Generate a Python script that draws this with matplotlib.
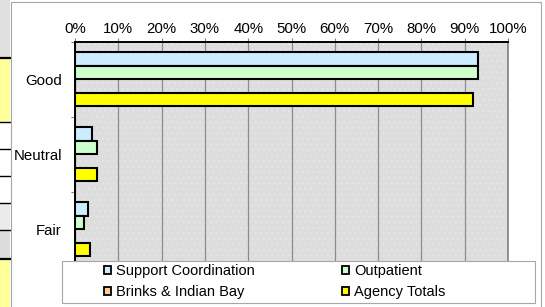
import matplotlib
matplotlib.use("Agg")
import matplotlib.pyplot as plt
from matplotlib.patches import Rectangle, Patch
from matplotlib.ticker import FuncFormatter, FixedLocator

plt.rcParams['font.family'] = ['Liberation Sans', 'DejaVu Sans']
plt.rcParams['hatch.linewidth'] = 0.6

categories = ["Good", "Neutral", "Fair"]
series_names = ["Support Coordination", "Outpatient", "Brinks & Indian Bay", "Agency Totals"]
support = [0.93, 0.04, 0.03]
outpatient = [0.93, 0.05, 0.02]
brinks = [0.0, 0.0, 0.0]
agency = [0.92, 0.05, 0.035]
colors = ["#CCECFF", "#CCFFCC", "#FFCC99", "#FFFF00"]
x_ticks = [0.0, 0.1, 0.2, 0.3, 0.4, 0.5, 0.6, 0.7, 0.8, 0.9, 1.0]

W, H = 545, 307
FS = 10.8
LFS = 10.55
fig = plt.figure(figsize=(W / 100, H / 100), dpi=100)
fig.patch.set_facecolor("white")

def fx(px):
    return px / W

def fy(py):
    return 1 - py / H

def frect(x0, y0, x1, y1, **kw):
    r = Rectangle((fx(x0), fy(y1)), fx(x1) - fx(x0), fy(y0) - fy(y1),
                  transform=fig.transFigure, **kw)
    fig.add_artist(r)
    return r

# left strip (part of worksheet behind the chart)
frect(0, 0, 10, 58, facecolor="#E0E0E0", edgecolor="none", zorder=-10)
frect(0, 58, 10, 122, facecolor="#FFFF99", edgecolor="none", zorder=-10)
frect(0, 122, 10, 203, facecolor="white", edgecolor="none", zorder=-10)
frect(0, 203, 10, 230, facecolor="#EBEBEB", edgecolor="none", zorder=-10)
frect(0, 230, 10, 258, facecolor="#DCDCDC", edgecolor="none", zorder=-10)
frect(0, 258, 10, 307, facecolor="#FFFF99", edgecolor="none", zorder=-10)
for yy, lw in [(58, 1.6), (122, 1.0), (149, 1.0), (176, 1.0), (203, 1.0), (230, 1.0), (258.5, 1.6)]:
    fig.add_artist(plt.Line2D([0, fx(10)], [fy(yy), fy(yy)], transform=fig.transFigure,
                              color="black", lw=lw, zorder=-9))

# chart frame
frect(10.5, 1.5, 540.5, 320, facecolor="white", edgecolor="#A6A6A6", lw=0.8, zorder=-8)

ax = fig.add_axes([fx(75), fy(266.7), fx(508) - fx(75), fy(41.7) - fy(266.7)])
ax.set_facecolor("#DDDDDD")
ax.set_axisbelow(True)
# faint dotted pattern of the plot area
ax.add_patch(Rectangle((0, 0), 1, 1, transform=ax.transAxes, facecolor="none",
                       edgecolor="#E7E7E7", hatch="...", lw=0, zorder=0.5))

bar_h = 0.18
offsets = [-0.27, -0.09, 0.09, 0.27]
all_series = [support, outpatient, brinks, agency]
for vals, off, col, name in zip(all_series, offsets, colors, series_names):
    ypos = [i + off for i in range(len(categories))]
    ax.barh(ypos, vals, height=bar_h, color=col, edgecolor="black", linewidth=1.5,
            label=name, zorder=3)

ax.set_xlim(0, 1)
ax.set_ylim(2.5, -0.5)
ax.xaxis.set_ticks_position("top")
ax.xaxis.set_major_locator(FixedLocator(x_ticks))
ax.xaxis.set_major_formatter(FuncFormatter(lambda v, p: f"{v * 100:.0f}%"))
ax.tick_params(axis="x", which="major", direction="out", length=3, width=0.8,
               color="#808080", labelsize=FS, pad=1, labelcolor="black")
ax.grid(axis="x", color="#8C8C8C", lw=0.9)

ax.set_yticks(range(len(categories)))
ax.set_yticklabels(categories)
ax.set_yticks([-0.5, 0.5, 1.5, 2.5], minor=True)
ax.tick_params(axis="y", which="major", length=0, labelsize=FS, pad=9.4)
ax.tick_params(axis="y", which="minor", direction="out", length=3, width=0.8, color="#808080")

for s in ["top", "left"]:
    ax.spines[s].set_color("black")
    ax.spines[s].set_linewidth(1.4)
ax.spines["right"].set_color("#808080")
ax.spines["right"].set_linewidth(1.2)
ax.spines["bottom"].set_visible(False)

# legend box
frect(62, 261, 535, 303, facecolor="white", edgecolor="#A6A6A6", lw=0.8, zorder=5)
handles = [Patch(facecolor=c, edgecolor="black", linewidth=1.3) for c in colors]
order = [0, 2, 1, 3]
leg = fig.legend([handles[i] for i in order], [series_names[i] for i in order],
                 ncol=2, loc="upper left",
                 bbox_to_anchor=(fx(104), fy(264)), frameon=False, fontsize=LFS,
                 borderpad=0, borderaxespad=0, handlelength=0.49, handleheight=0.49,
                 handletextpad=0.3, columnspacing=6.0, labelspacing=0.5)
leg.set_zorder(6)

fig.savefig("out.png", dpi=100)
